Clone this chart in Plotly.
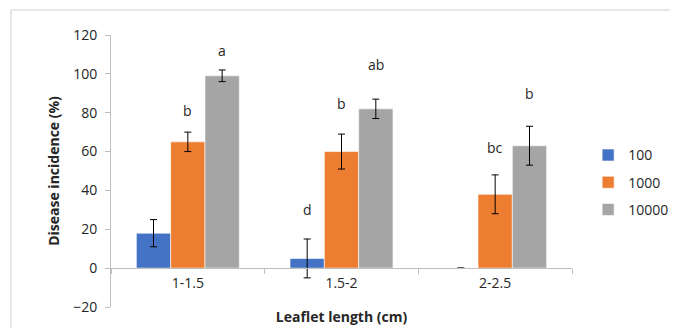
import plotly.graph_objects as go

categories = ["1-1.5", "1.5-2", "2-2.5"]
series_names = ["100", "1000", "10000"]
values_100 = [18, 5, 0]
values_1000 = [65, 60, 38]
values_10000 = [99, 82, 63]
err_100 = [7, 10, 0]
err_1000 = [5, 9, 10]
err_10000 = [3, 5, 10]
letters_100 = ["", "d", ""]
letters_1000 = ["b", "b", "bc"]
letters_10000 = ["a", "ab", "b"]
letter_y_100 = [None, 30, None]
letter_y_1000 = [81, 85, 62]
letter_y_10000 = [112, 105, 90]

colors = ["#4472C4", "#ED7D31", "#A5A5A5"]
FONT = "'Open Sans', sans-serif"
TXT = "#262626"

fig = go.Figure()
for name, vals, errs, col in zip(series_names,
                                 [values_100, values_1000, values_10000],
                                 [err_100, err_1000, err_10000], colors):
    fig.add_trace(go.Bar(
        x=categories, y=vals, name=name, legendgroup=name,
        marker=dict(color=col, line=dict(color="white", width=0.6)),
        error_y=dict(type="data", array=errs, visible=True,
                     color="black", thickness=1, width=3.5),
    ))

bar_w = 34.5
for k, (labs, ys) in enumerate(zip([letters_100, letters_1000, letters_10000],
                                   [letter_y_100, letter_y_1000, letter_y_10000])):
    for cat, lab, yv in zip(categories, labs, ys):
        if lab:
            fig.add_annotation(x=cat, y=yv, text=lab, showarrow=False,
                               xshift=(k - 1) * bar_w,
                               font=dict(size=14, color=TXT, family=FONT))

fig.add_shape(type="rect", xref="paper", yref="paper",
              x0=-0.217, x1=1.25, y0=-0.2, y1=1.092,
              line=dict(color="#D0D0D0", width=1), layer="below")

fig.update_layout(
    width=678, height=328,
    margin=dict(l=103, r=110, t=27, b=29),
    paper_bgcolor="white", plot_bgcolor="white",
    barmode="group", bargap=0.33, bargroupgap=0,
    font=dict(family=FONT, size=14, color=TXT),
    showlegend=True,
    legend=dict(x=1.035, y=0.458, xanchor="left", yanchor="middle",
                font=dict(size=14, color=TXT), tracegroupgap=6,
                itemwidth=30),
    xaxis=dict(
        anchor="free", position=39 / 272, automargin=False,
        showline=True, linecolor="#BFBFBF", linewidth=1,
        ticks="outside", tickson="boundaries", ticklen=5, tickcolor="#BFBFBF",
        tickfont=dict(size=14, color=TXT), ticklabelstandoff=2,
        showgrid=False, zeroline=False,
        title=dict(text="<b>Leaflet length (cm)</b>", standoff=21,
                   font=dict(size=14, color=TXT)),
    ),
    yaxis=dict(
        range=[-20, 120], tickvals=[-20, 0, 20, 40, 60, 80, 100, 120],
        automargin=False,
        showline=True, linecolor="#BFBFBF", linewidth=1,
        ticks="outside", ticklen=5, tickcolor="#BFBFBF",
        showgrid=False, zeroline=False, ticklabelstandoff=5,
        tickfont=dict(size=14, color=TXT),
        title=dict(text="<b>Disease incidence (%)</b>", standoff=10,
                   font=dict(size=14, color=TXT)),
    ),
)

fig.write_html("out.html")
